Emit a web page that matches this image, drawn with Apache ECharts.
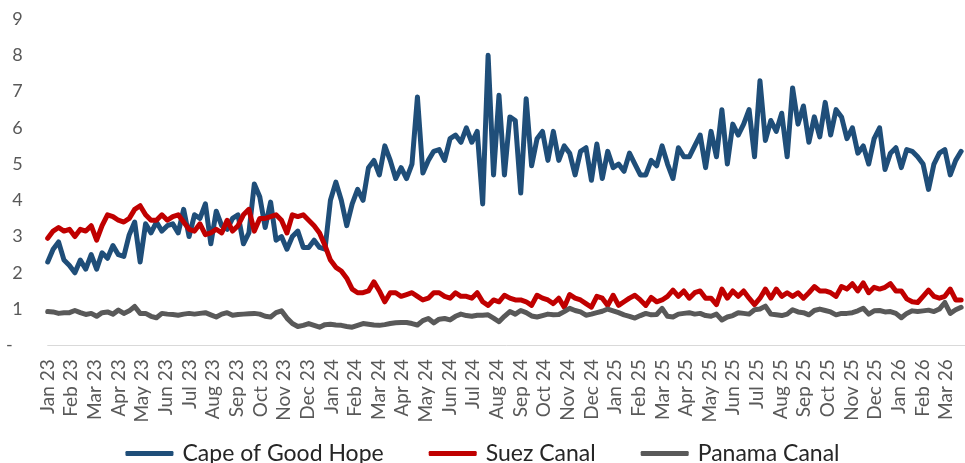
<!DOCTYPE html>
<html>
<head>
<meta charset="utf-8">
<script src="https://cdn.jsdelivr.net/npm/echarts@6.0.0/dist/echarts.min.js"></script>
<style>
html,body{margin:0;padding:0;background:#fff;}
#chart{width:965px;height:463px;}
</style>
</head>
<body>
<div id="chart"></div>
<script>
// Month tick labels (x axis)
const monthLabels = ['Jan 23','Feb 23','Mar 23','Apr 23','May 23','Jun 23','Jul 23','Aug 23','Sep 23','Oct 23','Nov 23','Dec 23',
  'Jan 24','Feb 24','Mar 24','Apr 24','May 24','Jun 24','Jul 24','Aug 24','Sep 24','Oct 24','Nov 24','Dec 24',
  'Jan 25','Feb 25','Mar 25','Apr 25','May 25','Jun 25','Jul 25','Aug 25','Sep 25','Oct 25','Nov 25','Dec 25',
  'Jan 26','Feb 26','Mar 26'];

// Weekly observations starting 1 Jan 2023
const seriesNames = ['Cape of Good Hope', 'Suez Canal', 'Panama Canal'];

const capeOfGoodHope = [
2.3,2.65,2.85,2.35,2.2,2.0,2.35,2.1,2.5,2.1,
2.55,2.4,2.75,2.5,2.45,3.05,3.4,2.3,3.35,3.1,
3.4,3.15,3.3,3.35,3.1,3.75,3.0,3.6,3.5,3.9,
2.8,3.7,3.3,3.2,3.5,3.6,2.8,3.1,4.45,4.1,
3.25,3.95,2.9,3.0,2.65,3.0,3.15,2.7,2.7,2.9,
2.7,2.65,4.0,4.5,4.0,3.3,3.9,4.3,4.0,4.9,
5.1,4.7,5.5,5.1,4.6,4.9,4.6,5.0,6.85,4.75,
5.1,5.35,5.4,5.1,5.7,5.8,5.6,6.0,5.6,5.9,
3.9,8.0,4.7,6.9,4.7,6.3,6.2,4.2,6.8,4.95,
5.7,5.9,5.1,5.9,5.1,5.5,5.3,4.7,5.35,5.45,
4.55,5.55,4.6,5.35,4.9,5.0,4.8,5.3,5.0,4.7,
4.7,5.1,4.95,5.5,5.0,4.6,5.45,5.2,5.2,5.5,
5.8,4.9,5.9,5.2,6.5,5.0,6.1,5.8,6.1,6.5,
5.2,7.3,5.65,6.2,5.9,6.4,5.2,7.1,6.1,6.6,
5.6,6.3,5.75,6.7,5.8,6.5,6.3,5.7,6.0,5.3,
5.5,5.0,5.7,6.0,4.85,5.3,5.45,4.9,5.4,5.35,
5.2,5.0,4.3,5.0,5.3,5.4,4.7,5.1,5.35
];

const suezCanal = [
2.95,3.15,3.25,3.15,3.2,3.0,3.2,3.15,3.3,2.9,
3.3,3.6,3.55,3.45,3.4,3.5,3.75,3.85,3.6,3.45,
3.45,3.6,3.45,3.55,3.6,3.4,3.2,3.15,3.35,3.05,
3.1,3.2,3.1,3.45,3.15,3.3,3.6,3.75,3.15,3.5,
3.5,3.55,3.6,3.45,3.1,3.6,3.55,3.6,3.45,3.3,
3.1,2.75,2.35,2.15,2.05,1.85,1.55,1.45,1.45,1.5,
1.75,1.5,1.2,1.45,1.45,1.35,1.4,1.45,1.35,1.25,
1.3,1.45,1.45,1.35,1.3,1.45,1.35,1.35,1.3,1.45,
1.2,1.1,1.25,1.2,1.38,1.3,1.25,1.25,1.2,1.1,
1.38,1.3,1.25,1.15,1.3,1.05,1.4,1.3,1.25,1.15,
1.05,1.35,1.3,1.1,1.38,1.1,1.2,1.3,1.38,1.25,
1.1,1.32,1.2,1.25,1.35,1.52,1.35,1.5,1.3,1.45,
1.5,1.3,1.3,1.12,1.55,1.3,1.5,1.35,1.5,1.3,
1.12,1.3,1.55,1.3,1.55,1.35,1.45,1.35,1.45,1.3,
1.45,1.62,1.5,1.5,1.45,1.35,1.62,1.55,1.7,1.5,
1.72,1.45,1.6,1.55,1.6,1.7,1.5,1.5,1.28,1.2,
1.18,1.35,1.52,1.35,1.3,1.35,1.55,1.25,1.25
];

const panamaCanal = [
0.93,0.92,0.88,0.9,0.9,0.96,0.9,0.85,0.88,0.8,
0.9,0.92,0.86,0.97,0.88,0.95,1.07,0.88,0.88,0.8,
0.76,0.88,0.86,0.85,0.83,0.86,0.88,0.86,0.88,0.9,
0.84,0.78,0.86,0.9,0.83,0.85,0.86,0.87,0.88,0.86,
0.8,0.78,0.9,0.95,0.75,0.6,0.52,0.55,0.6,0.55,
0.5,0.57,0.58,0.56,0.55,0.52,0.5,0.55,0.6,0.58,
0.56,0.55,0.57,0.6,0.62,0.63,0.63,0.6,0.56,0.68,
0.74,0.62,0.72,0.74,0.7,0.8,0.86,0.82,0.8,0.83,
0.83,0.84,0.75,0.65,0.8,0.93,0.86,0.96,0.9,0.81,
0.78,0.82,0.86,0.84,0.85,0.93,1.02,0.96,0.92,0.83,
0.86,0.9,0.94,1.0,0.95,0.9,0.84,0.8,0.75,0.82,
0.88,0.84,0.85,1.02,0.8,0.78,0.86,0.88,0.9,0.86,
0.88,0.82,0.8,0.86,0.7,0.78,0.82,0.9,0.88,0.86,
0.98,1.0,1.08,0.86,0.84,0.82,0.86,0.98,0.92,0.9,
0.84,0.96,1.0,0.96,0.92,0.84,0.88,0.88,0.9,0.95,
1.02,0.86,0.95,0.96,0.92,0.93,0.88,0.76,0.88,0.95,
0.93,0.95,0.97,0.93,1.0,1.18,0.88,0.98,1.05
];

const yTicks = [0,1,2,3,4,5,6,7,8,9];

// week index -> position in months since Jan 2023
const DAYS_PER_MONTH = 30.4375;
function toPoints(arr) {
  return arr.map((v, i) => [i * 7 / DAYS_PER_MONTH, v]);
}

const chart = echarts.init(document.getElementById('chart'), null, {renderer: 'canvas'});
const FONT = 'Lato, "Open Sans", sans-serif';
const colors = ['#1F4E79', '#C00000', '#595959'];

chart.setOption({
  animation: false,
  backgroundColor: '#ffffff',
  color: colors,
  grid: {left: 47.7, right: 0, top: 19, bottom: 117.7, containLabel: false},
  xAxis: {
    type: 'value',
    min: 0,
    max: 38.8,
    interval: 1,
    axisLine: {show: true, onZero: false, lineStyle: {color: '#D9D9D9', width: 1}},
    axisTick: {show: false},
    splitLine: {show: false},
    axisLabel: {
      rotate: 90,
      fontSize: 19,
      fontFamily: FONT,
      color: '#595959',
      margin: 14,
      showMaxLabel: false,
      formatter: function (v) {
        const r = Math.round(v);
        return Math.abs(v - r) < 1e-6 && monthLabels[r] ? monthLabels[r] : '';
      }
    }
  },
  yAxis: {
    type: 'value',
    min: yTicks[0],
    max: yTicks[yTicks.length - 1],
    interval: 1,
    axisLine: {show: false},
    axisTick: {show: false},
    splitLine: {show: false},
    axisLabel: {
      fontSize: 18,
      fontFamily: FONT,
      color: '#595959',
      margin: 25,
      formatter: function (v) { return v === 0 ? '{d|-}' : String(v); },
      rich: {d: {fontSize: 18, fontFamily: FONT, color: '#595959', padding: [0, 10, 0, 0]}}
    }
  },
  legend: {
    top: 437,
    left: 'center',
    icon: 'roundRect',
    itemWidth: 48,
    itemHeight: 5,
    itemGap: 45,
    textStyle: {fontSize: 23, fontFamily: FONT, color: '#262626', padding: [0, 0, 0, 4]},
    data: seriesNames
  },
  series: [
    {name: seriesNames[0], type: 'line', data: toPoints(capeOfGoodHope), showSymbol: false, symbol: 'none',
     lineStyle: {width: 5, color: colors[0], join: 'round', cap: 'round'}, itemStyle: {color: colors[0]}},
    {name: seriesNames[1], type: 'line', data: toPoints(suezCanal), showSymbol: false, symbol: 'none',
     lineStyle: {width: 5, color: colors[1], join: 'round', cap: 'round'}, itemStyle: {color: colors[1]}},
    {name: seriesNames[2], type: 'line', data: toPoints(panamaCanal), showSymbol: false, symbol: 'none',
     lineStyle: {width: 5, color: colors[2], join: 'round', cap: 'round'}, itemStyle: {color: colors[2]}}
  ]
});
</script>
</body>
</html>
